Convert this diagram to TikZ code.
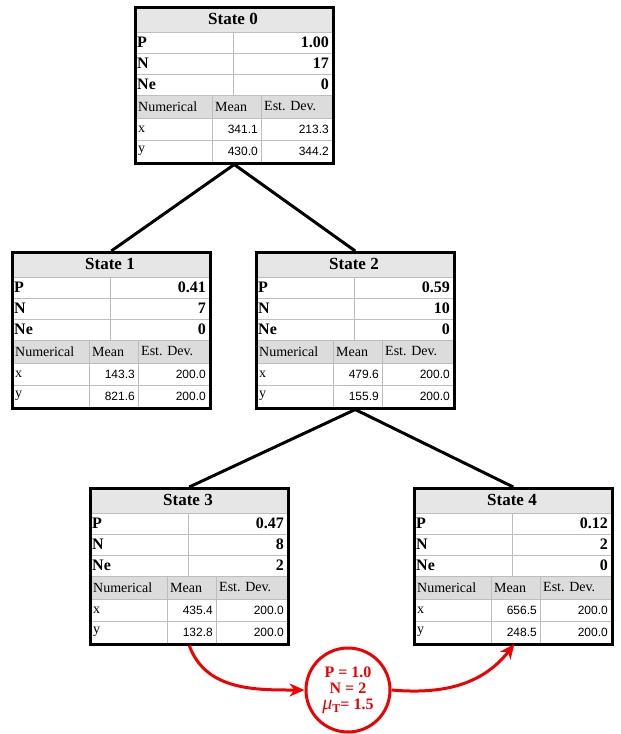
\documentclass[tikz,border=0pt]{standalone}
\usepackage{fontspec}
\setmainfont{Liberation Serif}
\newfontfamily\numfont{Liberation Sans}
\usetikzlibrary{arrows.meta, positioning}
\definecolor{ink}      {HTML}{000000}
\definecolor{titlegray}{HTML}{E6E6E6}
\definecolor{headgray} {HTML}{DCDCDC}
\definecolor{rulegray} {HTML}{BDBDBD}
\definecolor{hot}      {HTML}{F00000}
\tikzset{
  statebox/.style = {draw=ink, line width=2.5pt, minimum width=198pt,
                     minimum height=156pt, anchor=north west, inner sep=0pt},
  cell/.style     = {draw=rulegray, line width=0.8pt},
  ttl/.style      = {font=\fontsize{17}{19}\selectfont\bfseries, inner sep=0pt},
  rowkey/.style   = {font=\fontsize{16}{18}\selectfont\bfseries, anchor=west, inner sep=0pt},
  rowval/.style   = {rowkey, anchor=east},
  hdr/.style      = {font=\fontsize{14}{16}\selectfont, anchor=west, inner sep=0pt},
  numval/.style   = {font=\numfont\fontsize{12}{14}\selectfont, anchor=east, inner sep=0pt},
  branch/.style   = {line width=3pt, ink},
  flow/.style     = {-{Stealth[length=15pt,width=13pt]}, line width=3pt, hot},
  event/.style    = {circle, draw=hot, line width=3pt, minimum size=84pt, inner sep=0pt,
                     align=center, text=hot, font=\fontsize{16}{16}\selectfont\bfseries},
}

\begin{document}
\begin{tikzpicture}[x=1pt, y=-1pt]
  \useasboundingbox (0,0) rectangle (621,734);

  % --- state tables ---
  \foreach \n/\bx/\by/\p/\cnt/\ne/\xm/\xd/\ym/\yd in {
      0/134/6/1.00/17/0/341.1/213.3/430.0/344.2,
      1/11/251/0.41/7/0/143.3/200.0/821.6/200.0,
      2/255/251/0.59/10/0/479.6/200.0/155.9/200.0,
      3/89/487/0.47/8/2/435.4/200.0/132.8/200.0,
      4/413/487/0.12/2/0/656.5/200.0/248.5/200.0} {
    \begin{scope}[shift={(\bx,\by)}]
      \fill[titlegray] (0,0) rectangle (198,26);
      \fill[headgray] (0,89) rectangle (198,112);
      \foreach \r in {26,47,68,89,112,134}
        \draw[cell] (0,\r) -- (198,\r);
      \draw[cell] (99,26) -- (99,89);
      \draw[cell] (78,89) -- (78,156);
      \draw[cell] (127,89) -- (127,156);
      \node[statebox] (s\n) at (0,0) {};
      \node[ttl] at (99,13) {State \n};
      \node[rowkey] at (3,36.5) {P};
      \node[rowkey] at (3,57.5) {N};
      \node[rowkey] at (3,78.5) {Ne};
      \node[rowval] at (195,36.5) {\p};
      \node[rowval] at (195,57.5) {\cnt};
      \node[rowval] at (195,78.5) {\ne};
      \node[hdr] at (4,100.5) {Numerical};
      \node[hdr] at (81,100.5) {Mean};
      \node[hdr] at (130,100.5) {Est. Dev.};
      \node[hdr] at (4,123) {x};
      \node[hdr] at (4,145) {y};
      \node[numval] at (124,123) {\xm};
      \node[numval] at (195,123) {\xd};
      \node[numval] at (124,145) {\ym};
      \node[numval] at (195,145) {\yd};
    \end{scope}
  }

  % --- tree links ---
  \draw[branch] (s0.south) -- (s1.north);
  \draw[branch] (s0.south) -- (s2.north);
  \draw[branch] (s2.south) -- (s3.north);
  \draw[branch] (s2.south) -- (s4.north);

  % --- transition event ---
  \node[event] (ev) at (348,690)
    {P = 1.0\\N = 2\\{\fontsize{20}{16}\selectfont\mdseries\itshape μ}\raisebox{-0.4ex}{\fontsize{12}{12}\selectfont T}= 1.5};
  \draw[flow] (s3.south) to[out=-70, in=180] (ev.west);
  \draw[flow, shorten >=-2pt] (ev.east) to[out=-5, in=-128] (s4.south);

\end{tikzpicture}
\end{document}
